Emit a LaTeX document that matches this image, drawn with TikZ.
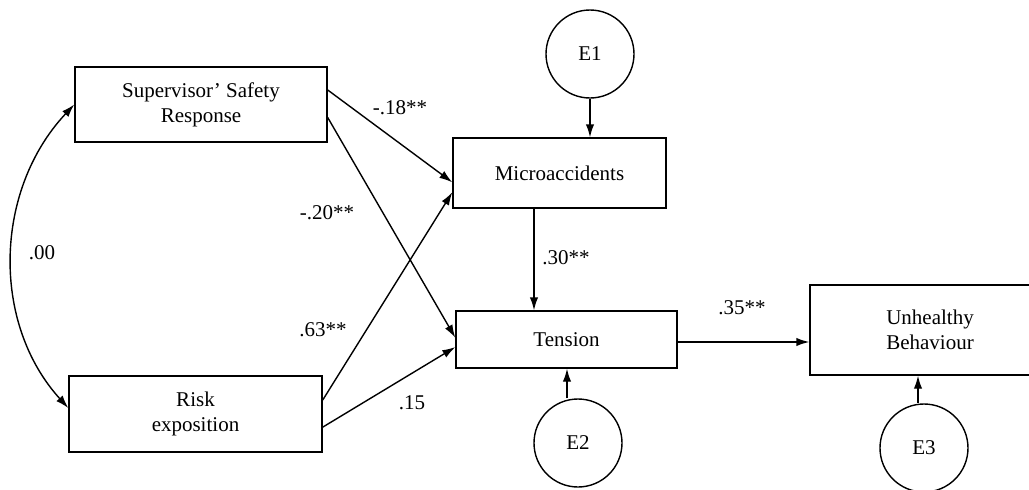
\documentclass[tikz,border=0pt]{standalone}
\usepackage{fontspec}
\setmainfont{Liberation Serif}
\usetikzlibrary{arrows.meta, calc}
\tikzset{
  varbox/.style 2 args={draw, line width=0.7pt, inner sep=0pt, align=center,
    minimum width=#1, minimum height=#2},
  errcirc/.style={draw, circle, line width=0.7pt, minimum size=44pt, inner sep=0pt},
  path/.style={->, line width=0.7pt},
  coef/.style={inner sep=1pt}
}

\begin{document}
\begin{tikzpicture}[x=0.5pt, y=0.5pt, font=\fontsize{10.5}{12.5}\selectfont,
    >={Latex[length=6.5pt,width=4.2pt]}]
    \path[use as bounding box, clip] (0,0) rectangle (1029,489);

    % Exogenous variables
    \node[varbox={126pt}{37.5pt}] (SSR) at (201,384.5) {Supervisor' Safety\\Response};
    \node[varbox={126.5pt}{38pt}] (Risk) at (195.5,75) {Risk\\exposition};

    % Mediators and outcome
    \node[varbox={106.5pt}{35pt}] (Micro) at (559.5,316) {Microaccidents};
    \node[varbox={110.5pt}{28.5pt}] (Tension) at (566.5,149.5) {Tension};
    \node[varbox={120pt}{45pt}] (Unhealthy) at (930,159) {Unhealthy\\Behaviour};

    % Error terms
    \node[errcirc] (E1) at (590,435) {E1};
    \node[errcirc] (E2) at (578,46) {E2};
    \node[errcirc] (E3) at (924,41) {E3};

    % Covariance
    \draw[<->, line width=0.7pt] (SSR.west) .. controls (-6,299) and (-9,166) .. ([yshift=3pt]Risk.west);
    \node[coef] (cov) at (42,236) {.00};

    % Paths from Supervisor' Safety Response
    \draw[path] ($(SSR.north east)!0.31!(SSR.south east)$) -- ($(Micro.north west)!0.63!(Micro.south west)$);
    \draw[path] ($(SSR.north east)!0.67!(SSR.south east)$) -- ($(Tension.north west)!0.47!(Tension.south west)$);
    \node[coef] (c1) at (400,381) {-.18**};
    \node[coef] (c2) at (327,276) {-.20**};

    % Paths from Risk exposition
    \draw[path] ($(Risk.north east)!0.32!(Risk.south east)$) -- ($(Micro.north west)!0.77!(Micro.south west)$);
    \draw[path] ($(Risk.north east)!0.67!(Risk.south east)$) -- ($(Tension.north west)!0.63!(Tension.south west)$);
    \node[coef] (c3) at (323,159) {.63**};
    \node[coef] (c4) at (412,86) {.15};

    % Microaccidents to Tension to Unhealthy Behaviour
    \draw[path] ([xshift=-12.75pt]Micro.south) -- ([xshift=-12.75pt]Micro.south |- Tension.north);
    \node[coef] (c5) at (566,231) {.30**};
    \draw[path] ([yshift=-1.25pt]Tension.east) -- ([yshift=-1.25pt]Tension.east -| Unhealthy.west);
    \node[coef] (c6) at (742,181) {.35**};

    % Error terms to variables
    \draw[path] (E1.south) -- (E1.south |- Micro.north);
    \draw[path] ([xshift=-5.5pt]E2.north) -- ([xshift=-5.5pt]E2.north |- Tension.south);
    \draw[path] ([xshift=-3pt]E3.north) -- ([xshift=-3pt]E3.north |- Unhealthy.south);
  \end{tikzpicture}
\end{document}
